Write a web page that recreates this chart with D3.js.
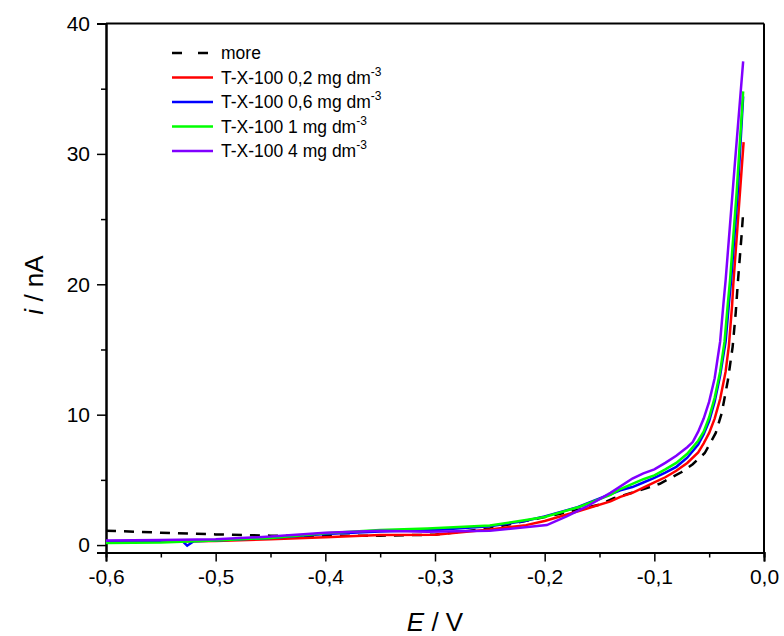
<!DOCTYPE html>
<html>
<head>
<meta charset="utf-8">
<script src="https://cdn.jsdelivr.net/npm/d3@7"></script>
<style>
  body { margin: 0; background: #fff; }
  svg text { font-family: Arial, "Liberation Sans", sans-serif; }
</style>
</head>
<body>
<div id="chart"></div>
<script>
// series data (E in V, i in nA)
var seriesNames = ['more', 'T-X-100 0,2 mg dm', 'T-X-100 0,6 mg dm', 'T-X-100 1 mg dm', 'T-X-100 4 mg dm']
var seriesColors = ['#000000', '#ff0000', '#0000ff', '#00ff00', '#8000ff']

var moreE = [-0.6, -0.55, -0.5, -0.45, -0.4, -0.35, -0.3, -0.25, -0.2, -0.18, -0.15, -0.137, -0.113, -0.095, -0.075, -0.065, -0.054, -0.044, -0.0386, -0.0329, -0.0286, -0.0258, -0.0237, -0.0204, -0.019]
var moreI = [1.1, 0.95, 0.82, 0.72, 0.7, 0.72, 0.8, 1.28, 2.15, 2.5, 3.1, 3.6, 4.2, 4.7, 5.6, 6.2, 7.06, 8.6, 10.1, 12.65, 15.2, 17.8, 20.3, 23.8, 25.5]

var redE = [-0.6, -0.55, -0.5, -0.45, -0.4, -0.35, -0.3, -0.25, -0.217, -0.2, -0.168, -0.14, -0.131, -0.12, -0.11, -0.1, -0.09, -0.08, -0.07, -0.06, -0.055, -0.05, -0.045, -0.04, -0.035, -0.032, -0.029, -0.028, -0.0186]
var redI = [0.25, 0.28, 0.32, 0.45, 0.6, 0.78, 0.8, 1.2, 1.53, 1.85, 2.63, 3.35, 3.7, 4.0, 4.4, 4.8, 5.2, 5.7, 6.3, 7.1, 7.8, 8.6, 9.7, 11.2, 13.3, 15.3, 18.5, 20.0, 30.9]

var blueE = [-0.6, -0.55, -0.53, -0.526, -0.52, -0.5, -0.45, -0.4, -0.35, -0.3, -0.25, -0.217, -0.2, -0.17, -0.131, -0.12, -0.11, -0.1, -0.09, -0.08, -0.07, -0.06, -0.055, -0.05, -0.045, -0.04, -0.035, -0.032, -0.03, -0.024, -0.019]
var blueI = [0.25, 0.27, 0.28, -0.05, 0.3, 0.35, 0.55, 0.85, 1.05, 1.15, 1.45, 1.86, 2.2, 2.9, 4.2, 4.45, 4.8, 5.15, 5.55, 6.0, 6.7, 7.7, 8.5, 9.5, 11.0, 13.0, 15.6, 18.5, 20.3, 27.0, 34.4]

var greenE = [-0.6, -0.55, -0.5, -0.45, -0.4, -0.35, -0.307, -0.25, -0.217, -0.2, -0.168, -0.14, -0.131, -0.12, -0.11, -0.1, -0.09, -0.08, -0.07, -0.06, -0.055, -0.05, -0.045, -0.04, -0.036, -0.033, -0.031, -0.025, -0.019]
var greenI = [0.15, 0.2, 0.35, 0.55, 0.9, 1.15, 1.28, 1.5, 1.92, 2.15, 2.94, 3.85, 4.3, 4.7, 5.05, 5.35, 5.8, 6.3, 7.0, 8.0, 8.7, 9.8, 11.3, 13.3, 15.6, 18.5, 20.3, 27.0, 34.8]

var purpleE = [-0.6, -0.55, -0.5, -0.45, -0.4, -0.35, -0.307, -0.25, -0.198, -0.18, -0.162, -0.14, -0.12, -0.11, -0.1, -0.09, -0.08, -0.07, -0.065, -0.06, -0.055, -0.05, -0.045, -0.04, -0.037, -0.035, -0.027, -0.019]
var purpleI = [0.35, 0.38, 0.45, 0.65, 0.95, 1.1, 1.02, 1.1, 1.53, 2.2, 2.94, 4.0, 5.1, 5.5, 5.8, 6.3, 6.85, 7.5, 7.9, 8.7, 9.7, 11.0, 12.8, 15.6, 18.5, 20.3, 28.8, 37.1]

var xTicks = [-0.6, -0.5, -0.4, -0.3, -0.2, -0.1, 0.0]
var yTicks = [0, 10, 20, 30, 40]

var allE = [moreE, redE, blueE, greenE, purpleE]
var allI = [moreI, redI, blueI, greenI, purpleI]

// dimensions
var W = 784, H = 636
var margin = { top: 23.5, right: 20, bottom: 83.5, left: 106 }
var width = W - margin.left - margin.right
var height = H - margin.top - margin.bottom

var svg = d3.select('#chart').append('svg')
  .attr('width', W)
  .attr('height', H)

var g = svg.append('g')
  .attr('transform', 'translate(' + margin.left + ',' + margin.top + ')')

var x = d3.scaleLinear().domain([-0.6, 0]).range([0, width])
var y = d3.scaleLinear().domain([-0.57, 40]).range([height, 0])

var fmt = function (d) { return d3.format('.1f')(d).replace('.', ',').replace('−', '-') }

// minor ticks
g.append('g')
  .attr('transform', 'translate(0,' + height + ')')
  .call(d3.axisBottom(x).tickValues(d3.range(-0.55, 0, 0.1)).tickSize(5).tickFormat(''))
g.append('g')
  .call(d3.axisLeft(y).tickValues([5, 15, 25, 35]).tickSize(5).tickFormat(''))

// major axes
var xAxis = g.append('g')
  .attr('transform', 'translate(0,' + height + ')')
  .call(d3.axisBottom(x).tickValues(xTicks).tickSize(9).tickPadding(8).tickFormat(fmt))
var yAxis = g.append('g')
  .call(d3.axisLeft(y).tickValues(yTicks).tickSize(9).tickPadding(7).tickFormat(d3.format('d')))

g.selectAll('.domain').attr('stroke-width', 2)
g.selectAll('.tick line').attr('stroke-width', 1.5)
xAxis.attr('font-size', 21).attr('font-family', null)
yAxis.attr('font-size', 21).attr('font-family', null)
xAxis.selectAll('text').attr('fill', '#000')
yAxis.selectAll('text').attr('fill', '#000')

// top & right frame
g.append('line').attr('x1', 0).attr('x2', width).attr('y1', 0).attr('y2', 0)
  .attr('stroke', '#000').attr('stroke-width', 2)
g.append('line').attr('x1', width).attr('x2', width).attr('y1', 0).attr('y2', height)
  .attr('stroke', '#000').attr('stroke-width', 2)

// lines
var line = d3.line()
  .x(function (d) { return x(d[0]) })
  .y(function (d) { return y(d[1]) })

allE.forEach(function (es, k) {
  var pts = es.map(function (e, j) { return [e, allI[k][j]] })
  g.append('path')
    .datum(pts)
    .attr('fill', 'none')
    .attr('stroke', seriesColors[k])
    .attr('stroke-width', 2.5)
    .attr('stroke-dasharray', k == 0 ? '10,8' : null)
    .attr('d', line)
})

// axis titles
svg.append('text')
  .attr('x', 435).attr('y', 631)
  .attr('text-anchor', 'middle')
  .style('font-size', '26px')
  .html('<tspan font-style="italic">E</tspan> / V')

svg.append('text')
  .attr('transform', 'translate(43,' + 285 + ') rotate(-90)')
  .attr('text-anchor', 'middle')
  .style('font-size', '26px')
  .html('<tspan font-style="italic">i</tspan> / nA')

// legend
var legend = svg.selectAll('.legend')
  .data(seriesNames)
  .enter().append('g')
  .attr('class', 'legend')
  .attr('transform', function (d, i) { return 'translate(170,' + (53 + i * 24.5) + ')' })

legend.append('line')
  .attr('x1', 2).attr('x2', 43).attr('y1', 0).attr('y2', 0)
  .attr('stroke', function (d, i) { return seriesColors[i] })
  .attr('stroke-width', 2.5)
  .attr('stroke-dasharray', function (d, i) { return i == 0 ? '10,16' : null })

legend.append('text')
  .attr('x', 51).attr('y', 6)
  .style('font-size', '17.5px')
  .each(function (d, i) {
    var t = d3.select(this)
    t.append('tspan').text(d)
    if (i > 0) t.append('tspan').attr('dy', -8).style('font-size', '12px').text('-3')
  })
</script>
</body>
</html>
